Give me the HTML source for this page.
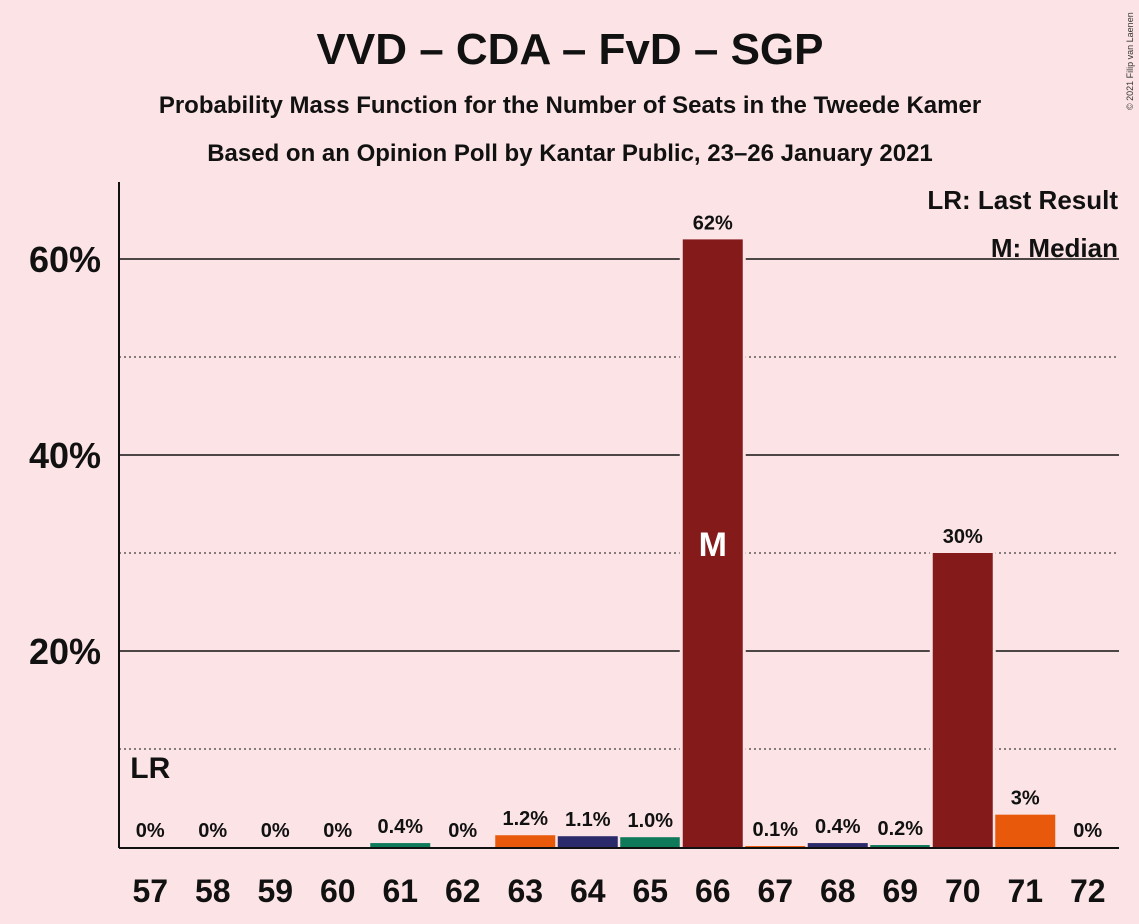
<!DOCTYPE html>
<html><head><meta charset="utf-8">
<style>
body{margin:0;background:#FCE4E6;}
svg{display:block;font-family:"Liberation Sans",sans-serif;}
</style></head>
<body>
<svg id="chart" width="1139" height="924" viewBox="0 0 1139 924">
<rect width="1139" height="924" fill="#FCE4E6"/>
<text x="570" y="64" text-anchor="middle" font-size="44" font-weight="bold" fill="#111">VVD – CDA – FvD – SGP</text>
<text x="570" y="113" text-anchor="middle" font-size="24" font-weight="bold" fill="#111">Probability Mass Function for the Number of Seats in the Tweede Kamer</text>
<text x="570" y="161" text-anchor="middle" font-size="24" font-weight="bold" fill="#111">Based on an Opinion Poll by Kantar Public, 23–26 January 2021</text>
<text x="1133" y="110" font-size="9" fill="#333" transform="rotate(-90 1133 110)">© 2021 Filip van Laenen</text>
<g id="grid"></g>
<g id="bars"></g>
<line x1="119" y1="182" x2="119" y2="848" stroke="#111" stroke-width="2"/>
<line x1="119" y1="848" x2="1119" y2="848" stroke="#111" stroke-width="2"/>
<text x="1118" y="209" text-anchor="end" font-size="26" font-weight="bold" fill="#111">LR: Last Result</text>
<text x="1118" y="257" text-anchor="end" font-size="26" font-weight="bold" fill="#111">M: Median</text>
</svg>
<script>
const seats=[57,58,59,60,61,62,63,64,65,66,67,68,69,70,71,72];
const probs=[0,0,0,0,0.4,0,1.2,1.1,1.0,62,0.1,0.4,0.2,30,3.3,0];
const valueLabels=["0%","0%","0%","0%","0.4%","0%","1.2%","1.1%","1.0%","62%","0.1%","0.4%","0.2%","30%","3%","0%"];
const yTicks=[10,20,30,40,50,60];
const yTickLabels={20:"20%",40:"40%",60:"60%"};
const medianSeat=66, lastResultSeat=57;
const colors=["#841A1A","#E8590C","#2B2A6B","#0E7A5A"];
const NS="http://www.w3.org/2000/svg";
const x0=119,x1=1119,y0=847,pxPer=9.8;
const step=(x1-x0)/seats.length;
const xc=i=>x0+step*(i+0.5);
const y=v=>y0-v*pxPer;
const grid=document.getElementById('grid'),bars=document.getElementById('bars');
function mk(t,a,p){const e=document.createElementNS(NS,t);for(const k in a)e.setAttribute(k,a[k]);p.appendChild(e);return e;}
yTicks.forEach(t=>{
 const major=t%20===0;
 const l=mk('line',{x1:x0,x2:x1,y1:y(t),y2:y(t),stroke:'#111','stroke-width':major?1.5:1,'stroke-dasharray':major?'none':'2,3'},grid);
 
 
 if(yTickLabels[t]){
  const tx=mk('text',{x:101,y:y(t)+13,'text-anchor':'end','font-size':36,'font-weight':'bold',fill:'#111'},grid);
  tx.textContent=yTickLabels[t];
  
  
 }
});
seats.forEach((s,i)=>{
 const v=probs[i],c=colors[(s-62+400)%4];
 if(v>0){
  const r=mk('rect',{x:xc(i)-30,y:y(v),width:60,height:y0-y(v),fill:c,stroke:'#FCE4E6','stroke-width':v>20?6:0,'paint-order':'stroke'},bars);
  
  
 }
 const lt=mk('text',{x:xc(i),y:y(v)-10,'text-anchor':'middle','font-size':20,'font-weight':'bold',fill:'#111'},bars);
 lt.textContent=valueLabels[i];
 
 
 const xt=mk('text',{x:xc(i),y:902,'text-anchor':'middle','font-size':32,'font-weight':'bold',fill:'#111'},bars);
 xt.textContent=s;
 
 
 if(s===medianSeat){
  const m=mk('text',{x:xc(i),y:y(v/2)+13,'text-anchor':'middle','font-size':34,'font-weight':'bold',fill:'#fff'},bars);
  m.textContent='M';
  
  
 }
 if(s===lastResultSeat){
  const lr=mk('text',{x:xc(i),y:778,'text-anchor':'middle','font-size':30,'font-weight':'bold',fill:'#111'},bars);
  lr.textContent='LR';
  
  
 }
});
</script>
</body></html>
